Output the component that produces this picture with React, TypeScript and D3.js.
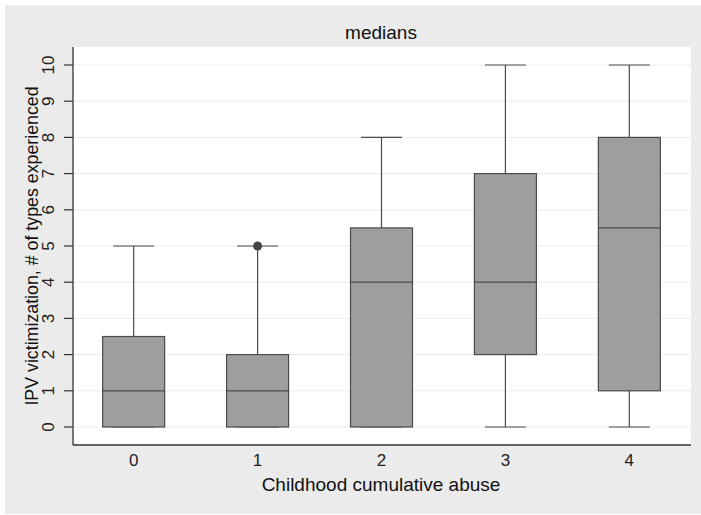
import React from "react";
import * as d3 from "d3";

const categories = ["0", "1", "2", "3", "4"];
const mins = [0, 0, 0, 0, 0];
const q1s = [0, 0, 0, 2, 1];
const medians = [1, 1, 4, 4, 5.5];
const q3s = [2.5, 2, 5.5, 7, 8];
const maxs = [5, 5, 8, 10, 10];
const outliers: [string, number][] = [["1", 5]];
const yTicks = [0, 1, 2, 3, 4, 5, 6, 7, 8, 9, 10];

const title = "medians";
const xTitle = "Childhood cumulative abuse";
const yTitle = "IPV victimization, # of types experienced";

export default function App() {
  const W = 701, H = 515;
  const left = 73, right = 691, top = 47, bottom = 445;
  const x = d3.scaleBand<string>().domain(categories).range([71.7, 691.3]).padding(0);
  const y = d3.scaleLinear().domain([0, 10]).range([427, 65]);
  const boxW = 62, capW = 41;
  const font = "'Liberation Sans', Arial, sans-serif";
  const stroke = "#4a4a4a";
  return (
    <svg width={W} height={H} style={{ position: "absolute", left: 0, top: 0 }} fontFamily={font}>
      <rect x={0} y={0} width={W} height={H} fill="#fff" />
      <rect x={5} y={5} width={W - 5} height={H - 6} fill="#ebebeb" />
      <rect x={left} y={top} width={right - left} height={bottom - top} fill="#fff" />
      {yTicks.map((t) => (
        <line key={"g" + t} x1={left} x2={right} y1={y(t)} y2={y(t)} stroke="#ececec" strokeWidth={1} />
      ))}
      {categories.map((c, i) => {
        const cx = (x(c) as number) + x.bandwidth() / 2;
        return (
          <g key={c}>
            <line x1={cx} x2={cx} y1={y(q3s[i])} y2={y(maxs[i])} stroke={stroke} strokeWidth={1.2} />
            <line x1={cx} x2={cx} y1={y(q1s[i])} y2={y(mins[i])} stroke={stroke} strokeWidth={1.2} />
            <line x1={cx - capW / 2} x2={cx + capW / 2} y1={y(maxs[i])} y2={y(maxs[i])} stroke={stroke} strokeWidth={1.2} />
            <line x1={cx - capW / 2} x2={cx + capW / 2} y1={y(mins[i])} y2={y(mins[i])} stroke={stroke} strokeWidth={1.2} />
            <rect x={cx - boxW / 2} y={y(q3s[i])} width={boxW} height={y(q1s[i]) - y(q3s[i])} fill="#9e9e9e" stroke={stroke} strokeWidth={1.2} />
            <line x1={cx - boxW / 2} x2={cx + boxW / 2} y1={y(medians[i])} y2={y(medians[i])} stroke={stroke} strokeWidth={1.2} />
            <text x={cx} y={466} textAnchor="middle" fontSize={17} fill="#222">{c}</text>
          </g>
        );
      })}
      {outliers.map(([c, v], i) => (
        <circle key={"o" + i} cx={(x(c) as number) + x.bandwidth() / 2} cy={y(v)} r={4.5} fill="#444" />
      ))}
      <line x1={left} x2={left} y1={top} y2={bottom} stroke="#333" strokeWidth={1.3} />
      <line x1={left} x2={right} y1={bottom} y2={bottom} stroke="#333" strokeWidth={1.3} />
      {yTicks.map((t) => (
        <g key={"t" + t}>
          <line x1={left - 9} x2={left} y1={y(t)} y2={y(t)} stroke="#333" strokeWidth={1.2} />
          <text transform={`translate(53.5,${y(t)}) rotate(-90)`} textAnchor="middle" fontSize={17} fill="#222">{t}</text>
        </g>
      ))}
      <text x={381} y={38.5} textAnchor="middle" fontSize={19} fill="#111">{title}</text>
      <text x={381} y={491} textAnchor="middle" fontSize={19} fill="#111">{xTitle}</text>
      <text transform={`translate(37.5,246) rotate(-90)`} textAnchor="middle" fontSize={17.8} fill="#111">{yTitle}</text>
    </svg>
  );
}
